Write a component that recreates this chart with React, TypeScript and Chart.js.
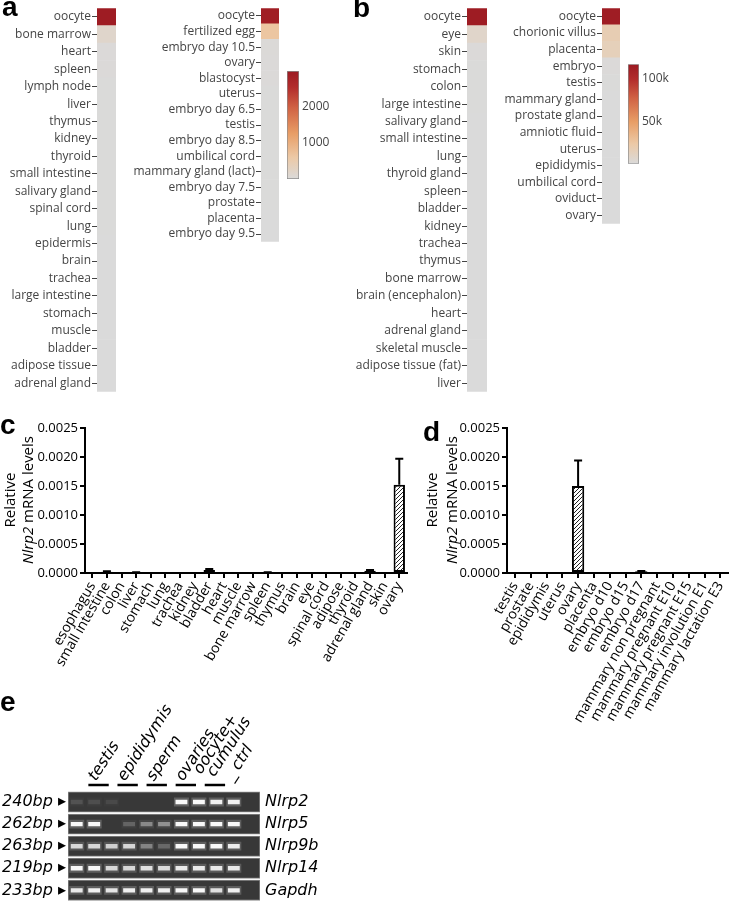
import React, { useEffect, useRef } from "react";
import { Chart, registerables } from "chart.js";

Chart.register(...registerables);

// ================= Panel a (heatmaps) =================
const aLeftTissues = ["oocyte", "bone marrow", "heart", "spleen", "lymph node", "liver", "thymus", "kidney", "thyroid", "small intestine", "salivary gland", "spinal cord", "lung", "epidermis", "brain", "trachea", "large intestine", "stomach", "muscle", "bladder", "adipose tissue", "adrenal gland"];
const aLeftValues = [2950, 170, 25, 20, 15, 12, 10, 10, 10, 8, 8, 6, 6, 5, 5, 5, 5, 5, 4, 4, 4, 4];
const aRightTissues = ["oocyte", "fertilized egg", "embryo day 10.5", "ovary", "blastocyst", "uterus", "embryo day 6.5", "testis", "embryo day 8.5", "umbilical cord", "mammary gland (lact)", "embryo day 7.5", "prostate", "placenta", "embryo day 9.5"];
const aRightValues = [2900, 650, 30, 25, 20, 15, 15, 12, 10, 10, 8, 8, 6, 5, 5];
const aScaleMin = 0;
const aScaleMax = 3000;
const aScaleTicks = [1000, 2000];
const aScaleTickLabels = ["1000", "2000"];

// ================= Panel b (heatmaps) =================
const bLeftTissues = ["oocyte", "eye", "skin", "stomach", "colon", "large intestine", "salivary gland", "small intestine", "lung", "thyroid gland", "spleen", "bladder", "kidney", "trachea", "thymus", "bone marrow", "brain (encephalon)", "heart", "adrenal gland", "skeletal muscle", "adipose tissue (fat)", "liver"];
const bLeftValues = [114000, 9000, 3000, 2500, 2400, 2300, 2200, 2100, 2000, 2000, 2000, 2000, 2000, 2000, 2000, 2000, 2000, 2000, 2000, 2000, 2000, 2000];
const bRightTissues = ["oocyte", "chorionic villus", "placenta", "embryo", "testis", "mammary gland", "prostate gland", "amniotic fluid", "uterus", "epididymis", "umbilical cord", "oviduct", "ovary"];
const bRightValues = [113000, 19000, 16000, 3000, 2500, 2200, 2100, 2000, 2000, 2000, 2000, 2000, 2000];
const bScaleMin = 2000;
const bScaleMax = 116000;
const bScaleTicks = [50000, 100000];
const bScaleTickLabels = ["50k", "100k"];

// ================= Panel c (bar chart) =================
const cTissues = ["esophagus", "small intestine", "colon", "liver", "stomach", "lung", "trachea", "kidney", "bladder", "heart", "muscle", "bone marrow", "spleen", "thymus", "brain", "eye", "spinal cord", "adipose", "thyroid", "adrenal gland", "skin", "ovary"];
const cMeans = [0, 0.00002, 0, 0.00001, 0, 0, 0, 0, 0.00005, 0, 0, 0, 0.00001, 0, 0, 0, 0, 0, 0, 0.00004, 0, 0.00152];
const cErrors = [0, 0.00001, 0, 0.000005, 0, 0, 0, 0, 0.00002, 0, 0, 0, 0.000005, 0, 0, 0, 0, 0, 0, 0.00001, 0, 0.00045];

// ================= Panel d (bar chart) =================
const dTissues = ["testis", "prostate", "epididymis", "uterus", "ovary", "placenta", "embryo d10", "embryo d15", "embryo d17", "mammary non pregnant", "mammary pregnant E10", "mammary pregnant E15", "mammary involution E1", "mammary lactation E3"];
const dMeans = [0, 0, 0, 0, 0.0015, 0, 0, 0, 0.00003, 0, 0, 0, 0, 0];
const dErrors = [0, 0, 0, 0, 0.00044, 0, 0, 0, 0.000005, 0, 0, 0, 0, 0];

const mrnaTicks = [0, 0.0005, 0.001, 0.0015, 0.002, 0.0025];

// ================= Panel e (gel) =================
const gelLanes = ["testis 1", "testis 2", "epididymis 1", "epididymis 2", "sperm 1", "sperm 2", "ovaries 1", "ovaries 2", "oocyte+cumulus 1", "oocyte+cumulus 2", "ctrl"];
const gelGroupNames: (string | string[])[] = ["testis", "epididymis", "sperm", "ovaries", ["oocyte+", " cumulus"], "_ ctrl"];
const gelGroupLanes = [[0, 1], [2, 3], [4, 5], [6, 7], [8, 9], [10, 10]];
const gelSizes = ["240bp", "262bp", "263bp", "219bp", "233bp"];
const gelGenes = ["Nlrp2", "Nlrp5", "Nlrp9b", "Nlrp14", "Gapdh"];
const nlrp2Bands = [0.12, 0.1, 0.08, 0, 0, 0, 1, 1, 0.95, 0.95, 0];
const nlrp5Bands = [1, 1, 0, 0.2, 0.38, 0.42, 1, 1, 1, 1, 0];
const nlrp9bBands = [0.8, 0.8, 0.75, 0.78, 0.35, 0.22, 1, 1, 1, 0.92, 0];
const nlrp14Bands = [1, 1, 0.8, 0.8, 0.85, 0.82, 0.9, 0.9, 0.9, 0.9, 0];
const gapdhBands = [0.9, 0.95, 0.88, 0.95, 0.95, 0.95, 1, 1, 0.85, 0.95, 0];
const gelBands = [nlrp2Bands, nlrp5Bands, nlrp9bBands, nlrp14Bands, gapdhBands];

// ================= styles / helpers =================
const HEAT_STOPS: [number, number[]][] = [
  [0, [218, 218, 218]],
  [0.2, [236, 201, 166]],
  [0.42, [232, 158, 102]],
  [0.66, [208, 98, 68]],
  [0.85, [178, 44, 44]],
  [1, [155, 26, 34]],
];

function heatColor(t: number): string {
  const x = Math.max(0, Math.min(1, t));
  for (let i = 1; i < HEAT_STOPS.length; i++) {
    const [t1, c1] = HEAT_STOPS[i];
    const [t0, c0] = HEAT_STOPS[i - 1];
    if (x <= t1) {
      const f = (x - t0) / (t1 - t0);
      const c = c0.map((v, k) => Math.round(v + (c1[k] - v) * f));
      return `rgb(${c[0]},${c[1]},${c[2]})`;
    }
  }
  const l = HEAT_STOPS[HEAT_STOPS.length - 1][1];
  return `rgb(${l[0]},${l[1]},${l[2]})`;
}

const OPEN = "'Open Sans', sans-serif";
const DEJA = "'DejaVu Sans', sans-serif";

function heatmap(canvas: HTMLCanvasElement, labels: string[], values: number[], vmin: number, vmax: number, axisW: number, pad: any) {
  return new Chart(canvas, {
    type: "bar",
    data: {
      labels,
      datasets: [
        {
          data: values.map(() => 1),
          backgroundColor: values.map((v) => heatColor((v - vmin) / (vmax - vmin))),
          borderWidth: 0,
          barPercentage: 1,
          categoryPercentage: 1,
        },
      ],
    },
    options: {
      indexAxis: "y",
      animation: false,
      responsive: false,
      layout: { padding: pad },
      plugins: { legend: { display: false }, tooltip: { enabled: false } },
      scales: {
        x: { display: false, min: 0, max: 1 },
        y: {
          afterFit: (s: any) => {
            s.width = axisW;
          },
          grid: { display: true, drawOnChartArea: false, drawTicks: true, tickLength: 5, color: "#444", lineWidth: 1, offset: false },
          border: { display: false },
          ticks: { autoSkip: false, padding: 1, color: "#444", font: { family: OPEN, size: 12 } },
        },
      },
    } as any,
  });
}

function colorbar(canvas: HTMLCanvasElement, vmin: number, vmax: number, ticks: number[], tickLabels: string[], axisW: number, pad: any) {
  return new Chart(canvas, {
    type: "bar",
    data: {
      labels: [""],
      datasets: [
        {
          data: [[vmin, vmax]] as any,
          backgroundColor: (ctx: any) => {
            const ch = ctx.chart;
            const a = ch.chartArea;
            if (!a) return "#ccc";
            const g = ch.ctx.createLinearGradient(0, a.bottom, 0, a.top);
            HEAT_STOPS.forEach(([t, c]) => g.addColorStop(t, `rgb(${c[0]},${c[1]},${c[2]})`));
            return g;
          },
          borderColor: "#8c8c8c",
          borderWidth: 1,
          borderSkipped: false,
          barPercentage: 1,
          categoryPercentage: 1,
        },
      ],
    },
    options: {
      animation: false,
      responsive: false,
      layout: { padding: pad },
      plugins: { legend: { display: false }, tooltip: { enabled: false } },
      scales: {
        x: { display: false },
        y: {
          position: "right",
          min: vmin,
          max: vmax,
          afterFit: (s: any) => {
            s.width = axisW;
          },
          afterBuildTicks: (s: any) => {
            s.ticks = ticks.map((v) => ({ value: v }));
          },
          grid: { display: false, drawTicks: false },
          border: { display: false },
          ticks: { padding: 3, color: "#444", font: { family: OPEN, size: 12 }, callback: (_v: any, i: number) => tickLabels[i] },
        },
      },
    } as any,
  });
}

const errorBarPlugin = {
  id: "errbars",
  afterDatasetsDraw(chart: any, _args: any, opts: any) {
    const errs: number[] = (opts && opts.errors) || [];
    const ys = chart.scales.y;
    const meta = chart.getDatasetMeta(0);
    const vals = chart.data.datasets[0].data;
    const ctx = chart.ctx;
    ctx.save();
    ctx.strokeStyle = "#000";
    ctx.lineWidth = 2;
    meta.data.forEach((el: any, i: number) => {
      const e = errs[i];
      if (!e) return;
      const top = ys.getPixelForValue(vals[i] + e);
      const base = ys.getPixelForValue(vals[i]);
      ctx.beginPath();
      ctx.moveTo(el.x, base);
      ctx.lineTo(el.x, top);
      ctx.moveTo(el.x - 4, top);
      ctx.lineTo(el.x + 4, top);
      ctx.stroke();
    });
    ctx.restore();
  },
};

function makeHatch(): CanvasPattern | string {
  const c = document.createElement("canvas");
  c.width = 4;
  c.height = 4;
  const x = c.getContext("2d");
  if (!x) return "#999";
  x.fillStyle = "#fff";
  x.fillRect(0, 0, 4, 4);
  x.strokeStyle = "#222";
  x.lineWidth = 1;
  x.beginPath();
  x.moveTo(0, 4);
  x.lineTo(4, 0);
  x.moveTo(-1, 1);
  x.lineTo(1, -1);
  x.moveTo(3, 5);
  x.lineTo(5, 3);
  x.stroke();
  const p = x.createPattern(c, "repeat");
  return p || "#999";
}

function barChart(canvas: HTMLCanvasElement, labels: string[], means: number[], errors: number[], axisW: number, xAxisH: number, pad: any, fill: any) {
  const tickGrid = { display: true, drawOnChartArea: false, drawTicks: true, tickLength: 5, lineWidth: 2, color: "#000", offset: false };
  return new Chart(canvas, {
    type: "bar",
    data: {
      labels,
      datasets: [
        {
          data: means,
          backgroundColor: fill,
          borderColor: "#000",
          borderWidth: 2,
          borderSkipped: false,
          barPercentage: 0.78,
          categoryPercentage: 1,
        },
      ],
    },
    options: {
      animation: false,
      responsive: false,
      layout: { padding: pad },
      plugins: { legend: { display: false }, tooltip: { enabled: false }, errbars: { errors } },
      scales: {
        x: {
          afterFit: (s: any) => {
            s.height = xAxisH;
          },
          grid: tickGrid,
          border: { display: true, width: 2, color: "#000" },
          ticks: { autoSkip: false, minRotation: 60, maxRotation: 60, padding: 1, color: "#000", font: { family: OPEN, size: 14 } },
        },
        y: {
          min: 0,
          max: 0.0025,
          afterFit: (s: any) => {
            s.width = axisW;
          },
          afterBuildTicks: (s: any) => {
            s.ticks = mrnaTicks.map((v) => ({ value: v }));
          },
          grid: tickGrid,
          border: { display: true, width: 2, color: "#000" },
          ticks: { padding: 2, color: "#000", font: { family: OPEN, size: 13 }, callback: (v: any) => Number(v).toFixed(4) },
        },
      },
    } as any,
    plugins: [errorBarPlugin as any],
  });
}

const groupLinePlugin = {
  id: "groupLines",
  afterDraw(chart: any) {
    const xs = chart.scales.x2;
    const ctx = chart.ctx;
    const y = chart.chartArea.top - 6;
    ctx.save();
    ctx.strokeStyle = "#000";
    ctx.lineWidth = 2.5;
    gelGroupLanes.forEach(([s, e]) => {
      if (e <= s) return;
      ctx.beginPath();
      ctx.moveTo(xs.getPixelForValue(s + 0.5 - 0.2), y);
      ctx.lineTo(xs.getPixelForValue(e + 0.5 + 0.2), y);
      ctx.stroke();
    });
    ctx.restore();
  },
};

function gelChart(canvas: HTMLCanvasElement) {
  const strips = gelGenes.map((_, r) => ({
    xAxisID: "x3",
    data: [[r + 0.04, r + 0.96]],
    backgroundColor: "#383838",
    borderColor: "#8a8a8a",
    borderWidth: 1,
    borderSkipped: false,
    barPercentage: 1,
    categoryPercentage: 1,
    grouped: false,
    order: 3,
  }));
  const glows = gelBands.map((row, r) => ({
    xAxisID: "x",
    data: row.map((v) => (v > 0 ? [r + 0.3, r + 0.7] : null)),
    backgroundColor: row.map((v) => `rgba(235,235,235,${(v * 0.22).toFixed(3)})`),
    borderWidth: 0,
    barPercentage: 0.86,
    categoryPercentage: 1,
    grouped: false,
    order: 2,
  }));
  const bands = gelBands.map((row, r) => ({
    xAxisID: "x",
    data: row.map((v) => (v > 0 ? [r + 0.4, r + 0.6] : null)),
    backgroundColor: row.map((v) => `rgba(248,248,248,${v.toFixed(3)})`),
    borderWidth: 0,
    barPercentage: 0.68,
    categoryPercentage: 1,
    grouped: false,
    order: 1,
  }));
  const rowTicks = gelGenes.map((_, i) => ({ value: i + 0.5 }));
  return new Chart(canvas, {
    type: "bar",
    data: { labels: gelLanes, datasets: [...strips, ...glows, ...bands] as any },
    options: {
      animation: false,
      responsive: false,
      layout: { padding: 0 },
      plugins: { legend: { display: false }, tooltip: { enabled: false } },
      scales: {
        x: { type: "category", display: false },
        x3: { type: "category", labels: ["gel"], display: false },
        x2: {
          type: "linear",
          position: "top",
          min: 0,
          max: gelLanes.length,
          afterFit: (s: any) => {
            s.height = 101;
          },
          afterBuildTicks: (s: any) => {
            s.ticks = gelGroupLanes.map(([a, b], i) => {
              const shift = a === b ? 0.15 : Array.isArray(gelGroupNames[i]) ? 0.25 : 0.3;
              return { value: (a + b) / 2 + 0.5 + shift };
            });
          },
          grid: { display: false, drawTicks: false },
          border: { display: false },
          ticks: {
            autoSkip: false,
            minRotation: 57,
            maxRotation: 57,
            padding: 8,
            color: "#000",
            font: { family: DEJA, size: 16, style: "italic", lineHeight: 0.78 },
            callback: (_v: any, i: number) => gelGroupNames[i],
          },
        },
        y: {
          type: "linear",
          min: 0,
          max: gelGenes.length,
          reverse: true,
          afterFit: (s: any) => {
            s.width = 68;
          },
          afterBuildTicks: (s: any) => {
            s.ticks = rowTicks.map((t) => ({ ...t }));
          },
          grid: { display: false, drawTicks: false },
          border: { display: false },
          ticks: { padding: 2, color: "#000", font: { family: DEJA, size: 16, style: "italic" }, callback: (_v: any, i: number) => `${gelSizes[i]} \u25B8` },
        },
        y2: {
          type: "linear",
          position: "right",
          min: 0,
          max: gelGenes.length,
          reverse: true,
          afterFit: (s: any) => {
            s.width = 70;
          },
          afterBuildTicks: (s: any) => {
            s.ticks = rowTicks.map((t) => ({ ...t }));
          },
          grid: { display: false, drawTicks: false },
          border: { display: false },
          ticks: { padding: 5, color: "#000", font: { family: DEJA, size: 16, style: "italic" }, callback: (_v: any, i: number) => gelGenes[i] },
        },
      },
    } as any,
    plugins: [groupLinePlugin as any],
  });
}

// ================= components =================
type Box = { left: number; top: number; w: number; h: number };

const BOX: Record<string, Box> = {
  a1: { left: 0, top: 0, w: 120, h: 400 },
  a2: { left: 125, top: 0, w: 160, h: 250 },
  aBar: { left: 280, top: 60, w: 60, h: 130 },
  b1: { left: 340, top: 0, w: 150, h: 400 },
  b2: { left: 490, top: 0, w: 135, h: 232 },
  bBar: { left: 620, top: 54, w: 70, h: 120 },
  c: { left: 0, top: 415, w: 415, h: 300 },
  d: { left: 420, top: 415, w: 316, h: 320 },
  e: { left: 0, top: 690, w: 330, h: 226 },
};

function Letter({ ch, x, y }: { ch: string; x: number; y: number }) {
  return (
    <div style={{ position: "absolute", left: x, top: y, fontFamily: "'Liberation Sans', Arial, sans-serif", fontWeight: 700, fontSize: 28, lineHeight: "28px", color: "#000" }}>{ch}</div>
  );
}

function YTitle({ cx, cy, lh }: { cx: number; cy: number; lh: number }) {
  const w = 200;
  const h = lh * 2;
  return (
    <div
      style={{
        position: "absolute",
        left: cx - w / 2,
        top: cy - h / 2,
        width: w,
        height: h,
        transform: "rotate(-90deg)",
        transformOrigin: "50% 50%",
        fontFamily: OPEN,
        fontSize: 15,
        lineHeight: `${lh}px`,
        textAlign: "center",
        color: "#000",
        whiteSpace: "nowrap",
      }}
    >
      <div>Relative</div>
      <div>
        <i>Nlrp2</i> mRNA levels
      </div>
    </div>
  );
}

export default function App() {
  const r = {
    a1: useRef<HTMLCanvasElement>(null),
    a2: useRef<HTMLCanvasElement>(null),
    aBar: useRef<HTMLCanvasElement>(null),
    b1: useRef<HTMLCanvasElement>(null),
    b2: useRef<HTMLCanvasElement>(null),
    bBar: useRef<HTMLCanvasElement>(null),
    c: useRef<HTMLCanvasElement>(null),
    d: useRef<HTMLCanvasElement>(null),
    e: useRef<HTMLCanvasElement>(null),
  };

  useEffect(() => {
    const charts: Chart[] = [];
    const hatch = makeHatch();
    charts.push(heatmap(r.a1.current!, aLeftTissues, aLeftValues, aScaleMin, aScaleMax, 97, { top: 2, bottom: 2, right: 4, left: 0 }));
    charts.push(heatmap(r.a2.current!, aRightTissues, aRightValues, aScaleMin, aScaleMax, 136, { top: 2, bottom: 4, right: 6, left: 0 }));
    charts.push(colorbar(r.aBar.current!, aScaleMin, aScaleMax, aScaleTicks, aScaleTickLabels, 41, { top: 11, bottom: 11, left: 7, right: 0 }));
    charts.push(heatmap(r.b1.current!, bLeftTissues, bLeftValues, bScaleMin, bScaleMax, 127, { top: 2, bottom: 2, right: 3, left: 0 }));
    charts.push(heatmap(r.b2.current!, bRightTissues, bRightValues, bScaleMin, bScaleMax, 112, { top: 2, bottom: 4, right: 5, left: 0 }));
    charts.push(colorbar(r.bBar.current!, bScaleMin, bScaleMax, bScaleTicks, bScaleTickLabels, 51, { top: 10, bottom: 10, left: 8, right: 0 }));
    charts.push(barChart(r.c.current!, cTissues, cMeans, cErrors, 85, 142, { top: 13, right: 8, left: 0, bottom: 0 }, hatch));
    charts.push(barChart(r.d.current!, dTissues, dMeans, dErrors, 87, 162, { top: 13, right: 4, left: 0, bottom: 0 }, hatch));
    charts.push(gelChart(r.e.current!));
    return () => charts.forEach((c) => c.destroy());
  }, []);

  return (
    <div style={{ position: "absolute", left: 0, top: 0, width: 736, height: 916, background: "#fff", overflow: "hidden" }}>
      {Object.keys(BOX).map((k) => {
        const b = BOX[k];
        return (
          <canvas
            key={k}
            ref={(r as any)[k]}
            width={b.w}
            height={b.h}
            style={{ position: "absolute", left: b.left, top: b.top, width: b.w, height: b.h }}
          />
        );
      })}
      <Letter ch="a" x={2} y={-7} />
      <Letter ch="b" x={353} y={-6} />
      <Letter ch="c" x={0} y={411} />
      <Letter ch="d" x={423} y={418} />
      <Letter ch="e" x={0} y={688} />
      <YTitle cx={18} cy={500} lh={18} />
      <YTitle cx={441} cy={500} lh={20} />
    </div>
  );
}
